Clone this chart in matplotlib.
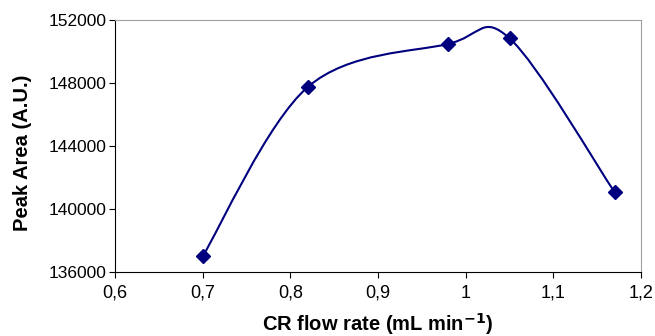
import numpy as np
import matplotlib
matplotlib.use("Agg")
import matplotlib.pyplot as plt
from matplotlib.path import Path
from matplotlib.patches import PathPatch

flow_rate = [0.70, 0.82, 0.98, 1.05, 1.17]
peak_area = [137000, 147750, 150480, 150840, 141060]
xticks = [0.6, 0.7, 0.8, 0.9, 1.0, 1.1, 1.2]
xtick_labels = ["0,6", "0,7", "0,8", "0,9", "1", "1,1", "1,2"]
yticks = [136000, 140000, 144000, 148000, 152000]

plt.rcParams['font.family'] = ['Liberation Sans', 'DejaVu Sans']

fig = plt.figure(figsize=(6.55, 3.36), dpi=100)
ax = fig.add_axes([115/655, 1 - 272/336, (641-115)/655, (272-20)/336])
ax.set_xlim(0.6, 1.2)
ax.set_ylim(136000, 152000)

color = '#00007f'
# smoothed line (Excel-like Bezier) computed in display space
pts = ax.transData.transform(np.column_stack([flow_rate, peak_area]))
n = len(pts)
verts = [pts[0]]
codes = [Path.MOVETO]
for i in range(n - 1):
    p0 = pts[i - 1] if i > 0 else pts[i]
    p1 = pts[i]
    p2 = pts[i + 1]
    p3 = pts[i + 2] if i + 2 < n else pts[i + 1]
    c1 = p1 + (p2 - p0) / 6
    c2 = p2 - (p3 - p1) / 6
    verts += [c1, c2, p2]
    codes += [Path.CURVE4] * 3
verts = ax.transData.inverted().transform(np.array(verts))
ax.add_patch(PathPatch(Path(verts, codes), facecolor='none', edgecolor=color, lw=1.5, zorder=3))
ax.plot(flow_rate, peak_area, linestyle='none', marker='D', markersize=7, color=color, zorder=4)

ax.set_xticks(xticks)
ax.set_xticklabels(xtick_labels)
ax.set_yticks(yticks)
ax.set_yticklabels([str(v) for v in yticks])
ax.tick_params(direction='out', length=4, color='black', pad=2)
ax.tick_params(axis='x', labelsize=13, pad=5)
ax.tick_params(axis='y', labelsize=12.5)
for s in ['top', 'right']:
    ax.spines[s].set_color('#a0a0a0')
for s in ['left', 'bottom']:
    ax.spines[s].set_color('black')
ax.set_xlabel('CR flow rate (mL min$^{\\mathbf{-1}}$)', fontsize=14.5, fontweight='bold')
ax.set_ylabel('Peak Area (A.U.)', fontsize=14.5, fontweight='bold')
ax.xaxis.set_label_coords(0.5, -0.205, transform=ax.transAxes)
ax.yaxis.set_label_coords(-0.175, 0.472, transform=ax.transAxes)
ax.xaxis.label.set_va('center')
ax.yaxis.label.set_va('center')

fig.savefig('out.png', dpi=100)
